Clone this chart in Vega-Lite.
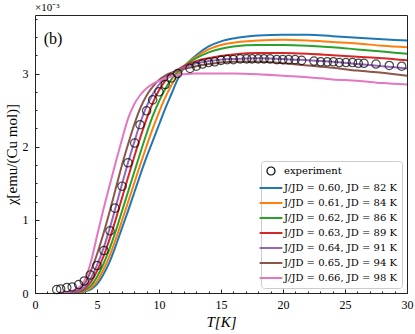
{
  "$schema": "https://vega.github.io/schema/vega-lite/v6.json",
  "width": 372,
  "height": 278,
  "autosize": {"type": "none"},
  "padding": {"left": 35, "top": 15, "right": 8, "bottom": 41},
  "config": {
    "font": "Liberation Serif",
    "view": {"stroke": "#222", "strokeWidth": 1}
  },
  "title": {"text": "×10⁻³", "anchor": "start", "frame": "group", "fontSize": 11, "fontWeight": "normal", "font": "Liberation Serif", "offset": 2, "color": "#000"},
  "resolve": {"axis": {"x": "independent", "y": "independent"}},
  "datasets": {
    "curves": [
      {"s":"J/JD = 0.60, JD = 82 K","T":2,"chi":0},{"s":"J/JD = 0.60, JD = 82 K","T":3,"chi":0},{"s":"J/JD = 0.60, JD = 82 K","T":3.5,"chi":0.005},{"s":"J/JD = 0.60, JD = 82 K","T":4,"chi":0.02},{"s":"J/JD = 0.60, JD = 82 K","T":4.5,"chi":0.05},{"s":"J/JD = 0.60, JD = 82 K","T":5,"chi":0.12},{"s":"J/JD = 0.60, JD = 82 K","T":5.5,"chi":0.25},{"s":"J/JD = 0.60, JD = 82 K","T":6,"chi":0.42},{"s":"J/JD = 0.60, JD = 82 K","T":6.5,"chi":0.64},{"s":"J/JD = 0.60, JD = 82 K","T":7,"chi":0.88},{"s":"J/JD = 0.60, JD = 82 K","T":7.5,"chi":1.12},{"s":"J/JD = 0.60, JD = 82 K","T":8,"chi":1.37},{"s":"J/JD = 0.60, JD = 82 K","T":8.5,"chi":1.62},{"s":"J/JD = 0.60, JD = 82 K","T":9,"chi":1.86},{"s":"J/JD = 0.60, JD = 82 K","T":9.5,"chi":2.08},{"s":"J/JD = 0.60, JD = 82 K","T":10,"chi":2.30},{"s":"J/JD = 0.60, JD = 82 K","T":10.5,"chi":2.52},{"s":"J/JD = 0.60, JD = 82 K","T":11,"chi":2.72},{"s":"J/JD = 0.60, JD = 82 K","T":11.5,"chi":2.92},{"s":"J/JD = 0.60, JD = 82 K","T":12,"chi":3.08},{"s":"J/JD = 0.60, JD = 82 K","T":13,"chi":3.25},{"s":"J/JD = 0.60, JD = 82 K","T":14,"chi":3.37},{"s":"J/JD = 0.60, JD = 82 K","T":15,"chi":3.44},{"s":"J/JD = 0.60, JD = 82 K","T":16,"chi":3.48},{"s":"J/JD = 0.60, JD = 82 K","T":18,"chi":3.52},{"s":"J/JD = 0.60, JD = 82 K","T":20,"chi":3.53},{"s":"J/JD = 0.60, JD = 82 K","T":22,"chi":3.53},{"s":"J/JD = 0.60, JD = 82 K","T":24,"chi":3.51},{"s":"J/JD = 0.60, JD = 82 K","T":26,"chi":3.49},{"s":"J/JD = 0.60, JD = 82 K","T":28,"chi":3.47},{"s":"J/JD = 0.60, JD = 82 K","T":30,"chi":3.45},

      {"s":"J/JD = 0.61, JD = 84 K","T":2,"chi":0},{"s":"J/JD = 0.61, JD = 84 K","T":3,"chi":0},{"s":"J/JD = 0.61, JD = 84 K","T":3.5,"chi":0.01},{"s":"J/JD = 0.61, JD = 84 K","T":4,"chi":0.03},{"s":"J/JD = 0.61, JD = 84 K","T":4.5,"chi":0.07},{"s":"J/JD = 0.61, JD = 84 K","T":5,"chi":0.16},{"s":"J/JD = 0.61, JD = 84 K","T":5.5,"chi":0.31},{"s":"J/JD = 0.61, JD = 84 K","T":6,"chi":0.50},{"s":"J/JD = 0.61, JD = 84 K","T":6.5,"chi":0.73},{"s":"J/JD = 0.61, JD = 84 K","T":7,"chi":0.98},{"s":"J/JD = 0.61, JD = 84 K","T":7.5,"chi":1.24},{"s":"J/JD = 0.61, JD = 84 K","T":8,"chi":1.50},{"s":"J/JD = 0.61, JD = 84 K","T":8.5,"chi":1.76},{"s":"J/JD = 0.61, JD = 84 K","T":9,"chi":2.01},{"s":"J/JD = 0.61, JD = 84 K","T":9.5,"chi":2.25},{"s":"J/JD = 0.61, JD = 84 K","T":10,"chi":2.47},{"s":"J/JD = 0.61, JD = 84 K","T":10.5,"chi":2.67},{"s":"J/JD = 0.61, JD = 84 K","T":11,"chi":2.84},{"s":"J/JD = 0.61, JD = 84 K","T":11.5,"chi":2.98},{"s":"J/JD = 0.61, JD = 84 K","T":12,"chi":3.09},{"s":"J/JD = 0.61, JD = 84 K","T":13,"chi":3.23},{"s":"J/JD = 0.61, JD = 84 K","T":14,"chi":3.33},{"s":"J/JD = 0.61, JD = 84 K","T":15,"chi":3.39},{"s":"J/JD = 0.61, JD = 84 K","T":16,"chi":3.42},{"s":"J/JD = 0.61, JD = 84 K","T":18,"chi":3.45},{"s":"J/JD = 0.61, JD = 84 K","T":20,"chi":3.46},{"s":"J/JD = 0.61, JD = 84 K","T":22,"chi":3.45},{"s":"J/JD = 0.61, JD = 84 K","T":24,"chi":3.43},{"s":"J/JD = 0.61, JD = 84 K","T":26,"chi":3.41},{"s":"J/JD = 0.61, JD = 84 K","T":28,"chi":3.38},{"s":"J/JD = 0.61, JD = 84 K","T":30,"chi":3.36},

      {"s":"J/JD = 0.62, JD = 86 K","T":2,"chi":0},{"s":"J/JD = 0.62, JD = 86 K","T":3,"chi":0.005},{"s":"J/JD = 0.62, JD = 86 K","T":3.5,"chi":0.015},{"s":"J/JD = 0.62, JD = 86 K","T":4,"chi":0.04},{"s":"J/JD = 0.62, JD = 86 K","T":4.5,"chi":0.10},{"s":"J/JD = 0.62, JD = 86 K","T":5,"chi":0.22},{"s":"J/JD = 0.62, JD = 86 K","T":5.5,"chi":0.39},{"s":"J/JD = 0.62, JD = 86 K","T":6,"chi":0.60},{"s":"J/JD = 0.62, JD = 86 K","T":6.5,"chi":0.84},{"s":"J/JD = 0.62, JD = 86 K","T":7,"chi":1.11},{"s":"J/JD = 0.62, JD = 86 K","T":7.5,"chi":1.38},{"s":"J/JD = 0.62, JD = 86 K","T":8,"chi":1.65},{"s":"J/JD = 0.62, JD = 86 K","T":8.5,"chi":1.92},{"s":"J/JD = 0.62, JD = 86 K","T":9,"chi":2.18},{"s":"J/JD = 0.62, JD = 86 K","T":9.5,"chi":2.42},{"s":"J/JD = 0.62, JD = 86 K","T":10,"chi":2.62},{"s":"J/JD = 0.62, JD = 86 K","T":10.5,"chi":2.79},{"s":"J/JD = 0.62, JD = 86 K","T":11,"chi":2.92},{"s":"J/JD = 0.62, JD = 86 K","T":11.5,"chi":3.02},{"s":"J/JD = 0.62, JD = 86 K","T":12,"chi":3.10},{"s":"J/JD = 0.62, JD = 86 K","T":13,"chi":3.21},{"s":"J/JD = 0.62, JD = 86 K","T":14,"chi":3.29},{"s":"J/JD = 0.62, JD = 86 K","T":15,"chi":3.34},{"s":"J/JD = 0.62, JD = 86 K","T":16,"chi":3.37},{"s":"J/JD = 0.62, JD = 86 K","T":18,"chi":3.39},{"s":"J/JD = 0.62, JD = 86 K","T":20,"chi":3.39},{"s":"J/JD = 0.62, JD = 86 K","T":22,"chi":3.38},{"s":"J/JD = 0.62, JD = 86 K","T":24,"chi":3.36},{"s":"J/JD = 0.62, JD = 86 K","T":26,"chi":3.33},{"s":"J/JD = 0.62, JD = 86 K","T":28,"chi":3.30},{"s":"J/JD = 0.62, JD = 86 K","T":30,"chi":3.27},

      {"s":"J/JD = 0.63, JD = 89 K","T":2,"chi":0},{"s":"J/JD = 0.63, JD = 89 K","T":3,"chi":0.01},{"s":"J/JD = 0.63, JD = 89 K","T":3.5,"chi":0.02},{"s":"J/JD = 0.63, JD = 89 K","T":4,"chi":0.06},{"s":"J/JD = 0.63, JD = 89 K","T":4.5,"chi":0.15},{"s":"J/JD = 0.63, JD = 89 K","T":5,"chi":0.30},{"s":"J/JD = 0.63, JD = 89 K","T":5.5,"chi":0.49},{"s":"J/JD = 0.63, JD = 89 K","T":6,"chi":0.73},{"s":"J/JD = 0.63, JD = 89 K","T":6.5,"chi":1.00},{"s":"J/JD = 0.63, JD = 89 K","T":7,"chi":1.29},{"s":"J/JD = 0.63, JD = 89 K","T":7.5,"chi":1.58},{"s":"J/JD = 0.63, JD = 89 K","T":8,"chi":1.86},{"s":"J/JD = 0.63, JD = 89 K","T":8.5,"chi":2.13},{"s":"J/JD = 0.63, JD = 89 K","T":9,"chi":2.38},{"s":"J/JD = 0.63, JD = 89 K","T":9.5,"chi":2.60},{"s":"J/JD = 0.63, JD = 89 K","T":10,"chi":2.77},{"s":"J/JD = 0.63, JD = 89 K","T":10.5,"chi":2.90},{"s":"J/JD = 0.63, JD = 89 K","T":11,"chi":2.99},{"s":"J/JD = 0.63, JD = 89 K","T":11.5,"chi":3.05},{"s":"J/JD = 0.63, JD = 89 K","T":12,"chi":3.10},{"s":"J/JD = 0.63, JD = 89 K","T":13,"chi":3.17},{"s":"J/JD = 0.63, JD = 89 K","T":14,"chi":3.21},{"s":"J/JD = 0.63, JD = 89 K","T":15,"chi":3.24},{"s":"J/JD = 0.63, JD = 89 K","T":16,"chi":3.26},{"s":"J/JD = 0.63, JD = 89 K","T":18,"chi":3.28},{"s":"J/JD = 0.63, JD = 89 K","T":20,"chi":3.28},{"s":"J/JD = 0.63, JD = 89 K","T":22,"chi":3.27},{"s":"J/JD = 0.63, JD = 89 K","T":24,"chi":3.25},{"s":"J/JD = 0.63, JD = 89 K","T":26,"chi":3.23},{"s":"J/JD = 0.63, JD = 89 K","T":28,"chi":3.21},{"s":"J/JD = 0.63, JD = 89 K","T":30,"chi":3.18},

      {"s":"J/JD = 0.64, JD = 91 K","T":2,"chi":0},{"s":"J/JD = 0.64, JD = 91 K","T":3,"chi":0.01},{"s":"J/JD = 0.64, JD = 91 K","T":3.5,"chi":0.03},{"s":"J/JD = 0.64, JD = 91 K","T":4,"chi":0.08},{"s":"J/JD = 0.64, JD = 91 K","T":4.5,"chi":0.20},{"s":"J/JD = 0.64, JD = 91 K","T":5,"chi":0.38},{"s":"J/JD = 0.64, JD = 91 K","T":5.5,"chi":0.60},{"s":"J/JD = 0.64, JD = 91 K","T":6,"chi":0.87},{"s":"J/JD = 0.64, JD = 91 K","T":6.5,"chi":1.17},{"s":"J/JD = 0.64, JD = 91 K","T":7,"chi":1.48},{"s":"J/JD = 0.64, JD = 91 K","T":7.5,"chi":1.78},{"s":"J/JD = 0.64, JD = 91 K","T":8,"chi":2.06},{"s":"J/JD = 0.64, JD = 91 K","T":8.5,"chi":2.33},{"s":"J/JD = 0.64, JD = 91 K","T":9,"chi":2.55},{"s":"J/JD = 0.64, JD = 91 K","T":9.5,"chi":2.72},{"s":"J/JD = 0.64, JD = 91 K","T":10,"chi":2.85},{"s":"J/JD = 0.64, JD = 91 K","T":10.5,"chi":2.94},{"s":"J/JD = 0.64, JD = 91 K","T":11,"chi":3.00},{"s":"J/JD = 0.64, JD = 91 K","T":11.5,"chi":3.05},{"s":"J/JD = 0.64, JD = 91 K","T":12,"chi":3.08},{"s":"J/JD = 0.64, JD = 91 K","T":13,"chi":3.14},{"s":"J/JD = 0.64, JD = 91 K","T":14,"chi":3.17},{"s":"J/JD = 0.64, JD = 91 K","T":15,"chi":3.19},{"s":"J/JD = 0.64, JD = 91 K","T":16,"chi":3.20},{"s":"J/JD = 0.64, JD = 91 K","T":18,"chi":3.21},{"s":"J/JD = 0.64, JD = 91 K","T":20,"chi":3.20},{"s":"J/JD = 0.64, JD = 91 K","T":22,"chi":3.18},{"s":"J/JD = 0.64, JD = 91 K","T":24,"chi":3.16},{"s":"J/JD = 0.64, JD = 91 K","T":26,"chi":3.13},{"s":"J/JD = 0.64, JD = 91 K","T":28,"chi":3.10},{"s":"J/JD = 0.64, JD = 91 K","T":30,"chi":3.07},

      {"s":"J/JD = 0.65, JD = 94 K","T":2,"chi":0},{"s":"J/JD = 0.65, JD = 94 K","T":3,"chi":0.02},{"s":"J/JD = 0.65, JD = 94 K","T":3.5,"chi":0.05},{"s":"J/JD = 0.65, JD = 94 K","T":4,"chi":0.13},{"s":"J/JD = 0.65, JD = 94 K","T":4.5,"chi":0.30},{"s":"J/JD = 0.65, JD = 94 K","T":5,"chi":0.53},{"s":"J/JD = 0.65, JD = 94 K","T":5.5,"chi":0.80},{"s":"J/JD = 0.65, JD = 94 K","T":6,"chi":1.10},{"s":"J/JD = 0.65, JD = 94 K","T":6.5,"chi":1.42},{"s":"J/JD = 0.65, JD = 94 K","T":7,"chi":1.74},{"s":"J/JD = 0.65, JD = 94 K","T":7.5,"chi":2.03},{"s":"J/JD = 0.65, JD = 94 K","T":8,"chi":2.30},{"s":"J/JD = 0.65, JD = 94 K","T":8.5,"chi":2.53},{"s":"J/JD = 0.65, JD = 94 K","T":9,"chi":2.70},{"s":"J/JD = 0.65, JD = 94 K","T":9.5,"chi":2.82},{"s":"J/JD = 0.65, JD = 94 K","T":10,"chi":2.91},{"s":"J/JD = 0.65, JD = 94 K","T":10.5,"chi":2.97},{"s":"J/JD = 0.65, JD = 94 K","T":11,"chi":3.01},{"s":"J/JD = 0.65, JD = 94 K","T":11.5,"chi":3.04},{"s":"J/JD = 0.65, JD = 94 K","T":12,"chi":3.06},{"s":"J/JD = 0.65, JD = 94 K","T":13,"chi":3.10},{"s":"J/JD = 0.65, JD = 94 K","T":14,"chi":3.13},{"s":"J/JD = 0.65, JD = 94 K","T":15,"chi":3.15},{"s":"J/JD = 0.65, JD = 94 K","T":16,"chi":3.16},{"s":"J/JD = 0.65, JD = 94 K","T":18,"chi":3.16},{"s":"J/JD = 0.65, JD = 94 K","T":20,"chi":3.14},{"s":"J/JD = 0.65, JD = 94 K","T":22,"chi":3.11},{"s":"J/JD = 0.65, JD = 94 K","T":24,"chi":3.08},{"s":"J/JD = 0.65, JD = 94 K","T":26,"chi":3.04},{"s":"J/JD = 0.65, JD = 94 K","T":28,"chi":3.01},{"s":"J/JD = 0.65, JD = 94 K","T":30,"chi":2.97},

      {"s":"J/JD = 0.66, JD = 98 K","T":2,"chi":0},{"s":"J/JD = 0.66, JD = 98 K","T":3,"chi":0.03},{"s":"J/JD = 0.66, JD = 98 K","T":3.5,"chi":0.07},{"s":"J/JD = 0.66, JD = 98 K","T":4,"chi":0.17},{"s":"J/JD = 0.66, JD = 98 K","T":4.5,"chi":0.42},{"s":"J/JD = 0.66, JD = 98 K","T":5,"chi":0.78},{"s":"J/JD = 0.66, JD = 98 K","T":5.5,"chi":1.13},{"s":"J/JD = 0.66, JD = 98 K","T":6,"chi":1.46},{"s":"J/JD = 0.66, JD = 98 K","T":6.5,"chi":1.78},{"s":"J/JD = 0.66, JD = 98 K","T":7,"chi":2.09},{"s":"J/JD = 0.66, JD = 98 K","T":7.5,"chi":2.38},{"s":"J/JD = 0.66, JD = 98 K","T":8,"chi":2.58},{"s":"J/JD = 0.66, JD = 98 K","T":8.5,"chi":2.71},{"s":"J/JD = 0.66, JD = 98 K","T":9,"chi":2.80},{"s":"J/JD = 0.66, JD = 98 K","T":9.5,"chi":2.86},{"s":"J/JD = 0.66, JD = 98 K","T":10,"chi":2.90},{"s":"J/JD = 0.66, JD = 98 K","T":10.5,"chi":2.93},{"s":"J/JD = 0.66, JD = 98 K","T":11,"chi":2.96},{"s":"J/JD = 0.66, JD = 98 K","T":11.5,"chi":2.98},{"s":"J/JD = 0.66, JD = 98 K","T":12,"chi":2.99},{"s":"J/JD = 0.66, JD = 98 K","T":13,"chi":3.00},{"s":"J/JD = 0.66, JD = 98 K","T":14,"chi":3.00},{"s":"J/JD = 0.66, JD = 98 K","T":15,"chi":3.00},{"s":"J/JD = 0.66, JD = 98 K","T":16,"chi":3.00},{"s":"J/JD = 0.66, JD = 98 K","T":18,"chi":2.99},{"s":"J/JD = 0.66, JD = 98 K","T":20,"chi":2.97},{"s":"J/JD = 0.66, JD = 98 K","T":22,"chi":2.95},{"s":"J/JD = 0.66, JD = 98 K","T":24,"chi":2.92},{"s":"J/JD = 0.66, JD = 98 K","T":26,"chi":2.90},{"s":"J/JD = 0.66, JD = 98 K","T":28,"chi":2.87},{"s":"J/JD = 0.66, JD = 98 K","T":30,"chi":2.85}
    ],
    "exp": [
      {"s":"experiment","T":1.75,"chi":0.047},{"s":"experiment","T":2.07,"chi":0.055},{"s":"experiment","T":2.56,"chi":0.074},{"s":"experiment","T":3.0,"chi":0.082},{"s":"experiment","T":3.52,"chi":0.115},{"s":"experiment","T":3.97,"chi":0.164},{"s":"experiment","T":4.46,"chi":0.247},{"s":"experiment","T":5.0,"chi":0.375},{"s":"experiment","T":5.56,"chi":0.58},{"s":"experiment","T":6.05,"chi":0.85},{"s":"experiment","T":6.45,"chi":1.16},{"s":"experiment","T":7.02,"chi":1.46},{"s":"experiment","T":7.5,"chi":1.78},{"s":"experiment","T":8.04,"chi":2.05},{"s":"experiment","T":8.47,"chi":2.30},{"s":"experiment","T":9.0,"chi":2.49},{"s":"experiment","T":9.49,"chi":2.64},{"s":"experiment","T":10.0,"chi":2.75},{"s":"experiment","T":10.5,"chi":2.85},{"s":"experiment","T":11.0,"chi":2.94},{"s":"experiment","T":11.5,"chi":3.0},{"s":"experiment","T":12.5,"chi":3.07},{"s":"experiment","T":13.0,"chi":3.10},{"s":"experiment","T":13.5,"chi":3.13},{"s":"experiment","T":14.0,"chi":3.15},{"s":"experiment","T":14.5,"chi":3.16},{"s":"experiment","T":15.0,"chi":3.18},{"s":"experiment","T":15.5,"chi":3.19},{"s":"experiment","T":16.0,"chi":3.19},{"s":"experiment","T":16.55,"chi":3.20},{"s":"experiment","T":17.07,"chi":3.20},{"s":"experiment","T":17.5,"chi":3.20},{"s":"experiment","T":18.0,"chi":3.20},{"s":"experiment","T":18.47,"chi":3.20},{"s":"experiment","T":18.95,"chi":3.20},{"s":"experiment","T":19.5,"chi":3.19},{"s":"experiment","T":19.98,"chi":3.19},{"s":"experiment","T":20.46,"chi":3.19},{"s":"experiment","T":20.97,"chi":3.19},{"s":"experiment","T":21.5,"chi":3.18},{"s":"experiment","T":22.5,"chi":3.17},{"s":"experiment","T":23.04,"chi":3.16},{"s":"experiment","T":23.57,"chi":3.16},{"s":"experiment","T":24.06,"chi":3.16},{"s":"experiment","T":24.54,"chi":3.15},{"s":"experiment","T":25.08,"chi":3.15},{"s":"experiment","T":25.6,"chi":3.15},{"s":"experiment","T":26.07,"chi":3.14},{"s":"experiment","T":26.53,"chi":3.14},{"s":"experiment","T":27.5,"chi":3.13},{"s":"experiment","T":28.57,"chi":3.11},{"s":"experiment","T":29.57,"chi":3.10}
    ],
    "lbl": [{"T": 0.7, "chi": 3.47, "t": "(b)"}]
  },
  "layer": [
    {
      "data": {"name": "curves"},
      "mark": {"type": "line", "strokeWidth": 2, "interpolate": "monotone", "clip": true},
      "encoding": {
        "x": {"field": "T", "type": "quantitative",
          "scale": {"domain": [0, 30], "nice": false, "zero": false},
          "axis": {
            "orient": "bottom", "offset": -4, "domain": false,
            "title": "T[K]", "titleFontSize": 15, "titleFontStyle": "italic", "titleFontWeight": "normal", "titlePadding": 4, "titleColor": "#000",
            "values": [0,5,10,15,20,25,30], "format": "d",
            "labelOverlap": false,
            "tickSize": 4, "tickColor": "#222",
            "labelPadding": 6, "labelFontSize": 12, "labelColor": "#000", "labelFlush": false,
            "grid": false
          }
        },
        "y": {"field": "chi", "type": "quantitative",
          "scale": {"domain": [0, 3.8], "nice": false, "zero": false},
          "axis": {
            "orient": "left", "offset": -4, "domain": false,
            "title": "χ[emu/(Cu mol)]", "titleFontSize": 15, "titleFontWeight": "normal", "titlePadding": 3, "titleColor": "#000",
            "values": [0,1,2,3], "format": "d",
            "labelOverlap": false,
            "tickSize": 4, "tickColor": "#222",
            "labelPadding": 7, "labelFontSize": 12, "labelColor": "#000", "labelFlush": false,
            "grid": false
          }
        },
        "color": {"field": "s", "type": "nominal",
          "scale": {
            "domain": ["experiment","J/JD = 0.60, JD = 82 K","J/JD = 0.61, JD = 84 K","J/JD = 0.62, JD = 86 K","J/JD = 0.63, JD = 89 K","J/JD = 0.64, JD = 91 K","J/JD = 0.65, JD = 94 K","J/JD = 0.66, JD = 98 K"],
            "range": ["#000000","#1f77b4","#ff7f0e","#2ca02c","#d62728","#9467bd","#8c564b","#e377c2"]
          },
          "legend": {
            "title": null, "orient": "bottom-right", "offset": 5,
            "padding": 5, "rowPadding": 5, "labelFontSize": 10, "labelFont": "DejaVu Serif", "labelColor": "#000",
            "symbolSize": 520, "symbolStrokeWidth": 2, "labelOffset": 8,
            "strokeColor": "#cccccc", "fillColor": "#ffffff", "cornerRadius": 3,
            "encode": {
              "symbols": {"update": {
                "shape": {"signal": "datum.value === 'experiment' ? 'circle' : 'stroke'"},
                "size": {"signal": "datum.value === 'experiment' ? 64 : 520"},
                "strokeWidth": {"signal": "datum.value === 'experiment' ? 1.2 : 2"},
                "fill": {"value": "transparent"}
              }}
            }
          }
        }
      }
    },
    {
      "data": {"name": "exp"},
      "mark": {"type": "point", "shape": "circle", "filled": false, "size": 70, "strokeWidth": 1.2},
      "encoding": {
        "x": {"field": "T", "type": "quantitative",
          "axis": {"orient": "bottom", "offset": -2, "domain": false, "title": null, "labels": false, "grid": false,
            "values": [0,1,2,3,4,5,6,7,8,9,10,11,12,13,14,15,16,17,18,19,20,21,22,23,24,25,26,27,28,29,30],
            "tickSize": 2, "tickColor": "#222"}
        },
        "y": {"field": "chi", "type": "quantitative",
          "axis": {"orient": "left", "offset": -2, "domain": false, "title": null, "labels": false, "grid": false,
            "values": [0,0.25,0.5,0.75,1,1.25,1.5,1.75,2,2.25,2.5,2.75,3,3.25,3.5,3.75],
            "tickSize": 2, "tickColor": "#222"}
        },
        "color": {"field": "s", "type": "nominal"}
      }
    },
    {
      "data": {"name": "lbl"},
      "mark": {"type": "text", "align": "left", "baseline": "middle", "fontSize": 16, "font": "Liberation Serif", "color": "#000"},
      "encoding": {
        "x": {"field": "T", "type": "quantitative", "axis": null},
        "y": {"field": "chi", "type": "quantitative", "axis": null},
        "text": {"field": "t"}
      }
    }
  ]
}
